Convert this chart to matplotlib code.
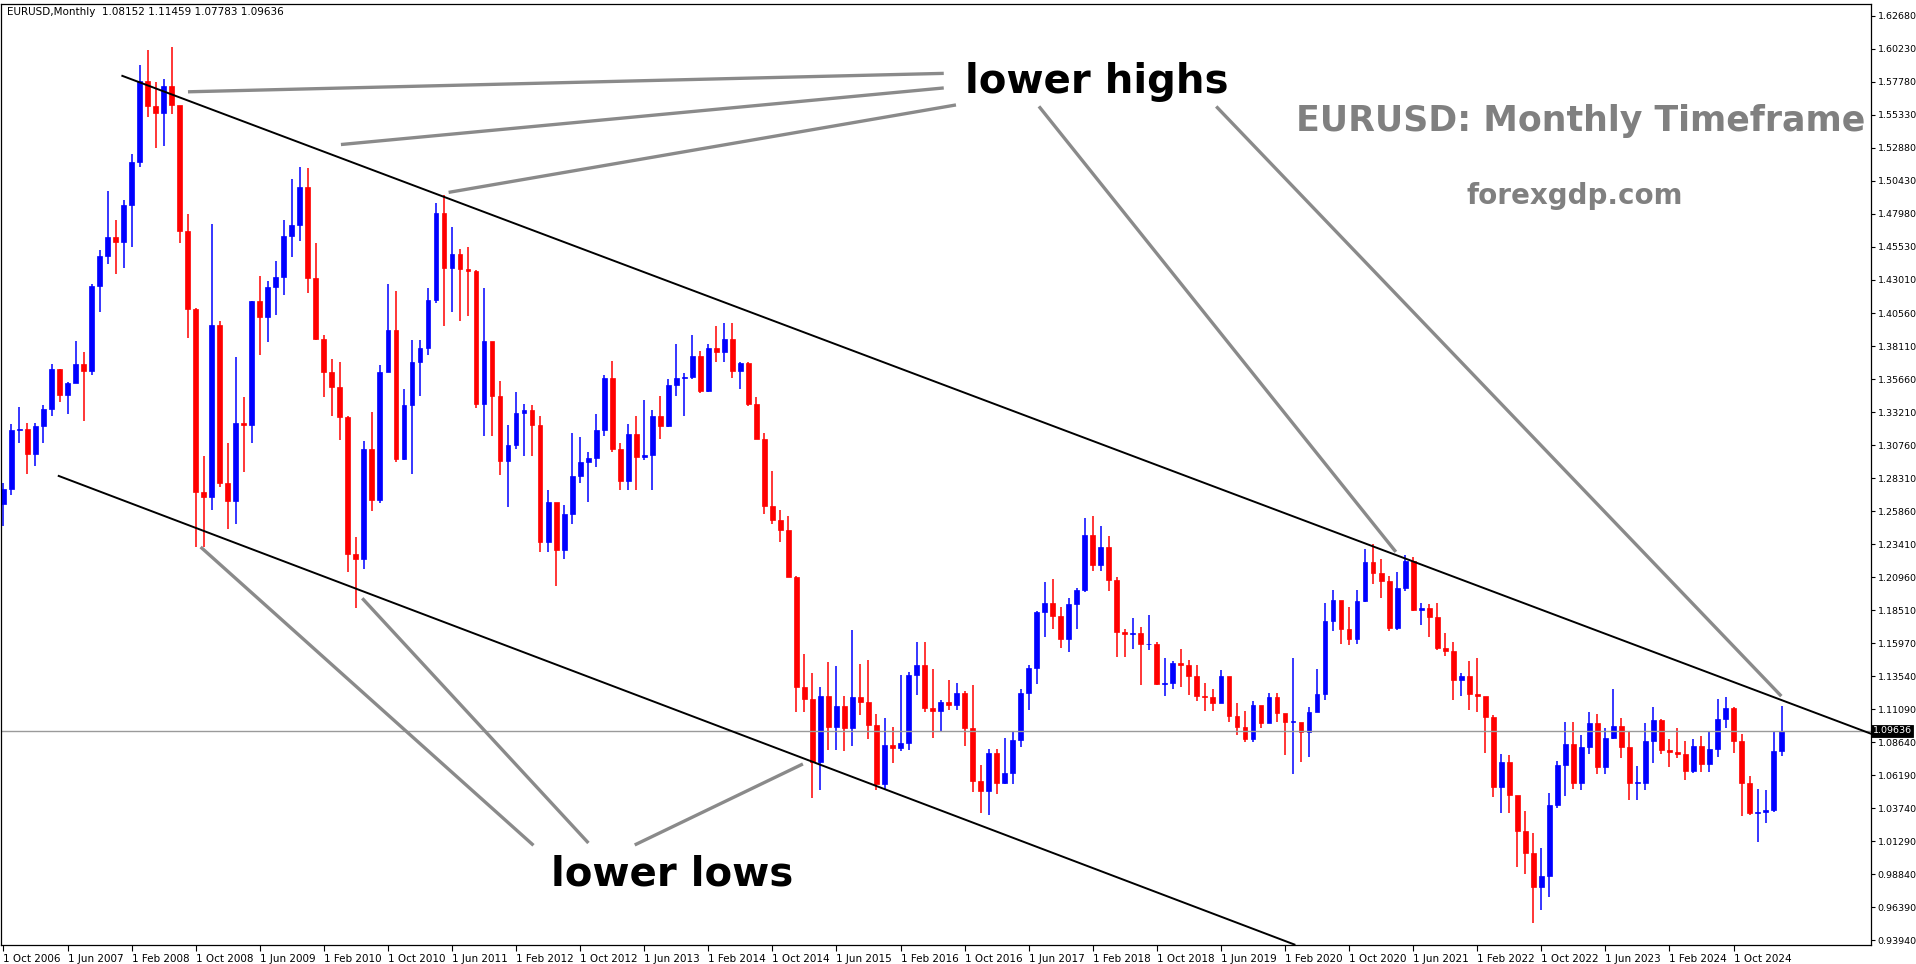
import matplotlib
matplotlib.use("Agg")
import matplotlib.pyplot as plt
from matplotlib.lines import Line2D
from matplotlib.patches import Rectangle

closes = [1.2760,1.3197,1.3199,
1.3019,1.3227,1.3354,1.3650,1.3454,1.3540,1.3687,1.3636,1.4263,1.4489,1.4628,1.4589,
1.4862,1.5184,1.5785,1.5597,1.5549,1.5751,1.5605,1.4670,1.4091,1.2736,1.2698,1.3971,
1.2804,1.2669,1.3247,1.3235,1.4150,1.4031,1.4256,1.4331,1.4638,1.4718,1.5000,1.4325,
1.3867,1.3627,1.3512,1.3294,1.2278,1.2235,1.3050,1.2674,1.3627,1.3934,1.2982,1.3381,
1.3696,1.3803,1.4159,1.4807,1.4398,1.4498,1.4389,1.4377,1.3385,1.3853,1.3447,1.2961,
1.3083,1.3320,1.3342,1.3235,1.2363,1.2664,1.2302,1.2574,1.2856,1.2955,1.2984,1.3194,
1.3580,1.3057,1.2817,1.3167,1.2995,1.3010,1.3301,1.3224,1.3526,1.3582,1.3589,1.3743,
1.3486,1.3800,1.3770,1.3870,1.3632,1.3692,1.3389,1.3131,1.2630,1.2525,1.2452,1.2100,
1.1290,1.1196,1.0731,1.1224,1.0987,1.1146,1.0984,1.1213,1.1176,1.1006,1.0565,1.0859,
1.0831,1.0873,1.1380,1.1453,1.1131,1.1106,1.1175,1.1157,1.1240,1.0980,1.0590,1.0517,
1.0797,1.0575,1.0652,1.0896,1.1243,1.1425,1.1842,1.1910,1.1813,1.1645,1.1904,1.2005,
1.2413,1.2193,1.2323,1.2078,1.1693,1.1683,1.1690,1.1603,1.1605,1.1312,1.1318,1.1466,
1.1448,1.1371,1.1217,1.1215,1.1168,1.1370,1.1075,1.0987,1.0899,1.1151,1.1018,1.1213,
1.1093,1.1027,1.1031,1.0955,1.1101,1.1235,1.1778,1.1936,1.1719,1.1646,1.1928,1.2216,
1.2137,1.2076,1.1728,1.2019,1.2225,1.1858,1.1870,1.1808,1.1579,1.1558,1.1336,1.1370,
1.1235,1.1218,1.1067,1.0545,1.0733,1.0484,1.0221,1.0054,0.9802,0.9882,1.0408,1.0705,
1.0863,1.0576,1.0839,1.1018,1.0690,1.0910,1.0998,1.0843,1.0573,1.0577,1.0886,1.1039,
1.0818,1.0805,1.0790,1.0666,1.0847,1.0713,1.0826,1.1048,1.1135,1.0884,1.0577,1.0354,
1.0362,1.0375,1.0815,1.09636]
highs = [1.2800,1.3240,1.3367,
1.3250,1.3250,1.3380,1.3682,1.3650,1.3550,1.3852,1.3770,1.4280,1.4528,1.4967,1.4750,
1.4900,1.5240,1.5905,1.6018,1.5780,1.5800,1.6038,1.5000,1.4800,1.4100,1.3000,1.4720,
1.4000,1.3100,1.3740,1.3440,1.4150,1.4340,1.4300,1.4450,1.4750,1.5060,1.5145,1.5140,
1.4580,1.3900,1.3720,1.3700,1.3300,1.2400,1.3110,1.3330,1.3680,1.4280,1.4230,1.3500,
1.3860,1.3860,1.4250,1.4880,1.4940,1.4700,1.4540,1.4550,1.4380,1.4250,1.3850,1.3560,
1.3230,1.3480,1.3390,1.3380,1.3300,1.2750,1.2400,1.2640,1.3170,1.3140,1.3030,1.3310,
1.3600,1.3710,1.3100,1.3240,1.3300,1.3420,1.3345,1.3450,1.3570,1.3830,1.3620,1.3900,
1.3780,1.3830,1.3970,1.3990,1.3990,1.3700,1.3700,1.3440,1.3170,1.2890,1.2600,1.2560,
1.2110,1.1530,1.1390,1.1290,1.1470,1.1440,1.1220,1.1710,1.1460,1.1490,1.1090,1.1060,
1.0990,1.1380,1.1400,1.1620,1.1620,1.1420,1.1190,1.1340,1.1320,1.1260,1.1300,1.0710,
1.0830,1.0830,1.0910,1.0950,1.1270,1.1450,1.1850,1.2070,1.2090,1.1880,1.1950,1.2020,
1.2540,1.2560,1.2480,1.2410,1.2100,1.1720,1.1800,1.1730,1.1820,1.1620,1.1500,1.1480,
1.1570,1.1490,1.1450,1.1320,1.1270,1.1410,1.1290,1.1170,1.1110,1.1180,1.1110,1.1240,
1.1240,1.1080,1.1500,1.1010,1.1140,1.1420,1.1910,1.2010,1.1920,1.1880,1.2010,1.2310,
1.2350,1.2240,1.2110,1.2140,1.2270,1.2250,1.1910,1.1900,1.1910,1.1690,1.1620,1.1390,
1.1480,1.1500,1.1180,1.1080,1.0790,1.0780,1.0280,1.0370,1.0200,1.0090,1.0500,1.0740,
1.1030,1.1030,1.0930,1.1100,1.1090,1.0980,1.1270,1.1060,1.0950,1.0700,1.1020,1.1140,
1.1050,1.0900,1.0980,1.0890,1.0900,1.0920,1.0950,1.1200,1.1210,1.1140,1.0940,1.0630,
1.0530,1.0520,1.0950,1.11459]
lows = [1.2480,1.2710,1.3100,
1.2866,1.2930,1.3100,1.3300,1.3402,1.3313,1.3540,1.3260,1.3600,1.4070,1.4430,1.4350,
1.4400,1.4550,1.5150,1.5515,1.5285,1.5300,1.5540,1.4580,1.3880,1.2330,1.2330,1.2600,
1.2770,1.2460,1.2500,1.2885,1.3100,1.3750,1.3850,1.4050,1.4200,1.4480,1.4600,1.4210,
1.3860,1.3440,1.3300,1.3120,1.2140,1.1876,1.2160,1.2590,1.2650,1.3690,1.2960,1.2970,
1.2870,1.3450,1.3750,1.4140,1.3970,1.4070,1.4000,1.4040,1.3360,1.3150,1.3150,1.2860,
1.2620,1.3050,1.3000,1.3000,1.2290,1.2290,1.2040,1.2240,1.2500,1.2800,1.2660,1.2920,
1.3150,1.3030,1.2750,1.2750,1.2750,1.2970,1.2750,1.3130,1.3220,1.3450,1.3300,1.3570,
1.3470,1.3480,1.3700,1.3700,1.3580,1.3500,1.3370,1.3130,1.2570,1.2500,1.2360,1.2100,
1.1100,1.1100,1.0460,1.0520,1.0820,1.0820,1.0810,1.0850,1.1080,1.0900,1.0520,1.0520,
1.0720,1.0810,1.0820,1.1230,1.1100,1.0910,1.0950,1.1120,1.1120,1.0850,1.0510,1.0350,
1.0340,1.0490,1.0570,1.0570,1.0840,1.1120,1.1310,1.1660,1.1720,1.1580,1.1550,1.1720,
1.1990,1.2150,1.2150,1.2000,1.1510,1.1510,1.1570,1.1300,1.1560,1.1300,1.1220,1.1270,
1.1290,1.1230,1.1180,1.1110,1.1110,1.1180,1.1030,1.0930,1.0880,1.0880,1.0980,1.1060,
1.1030,1.0780,1.0640,1.0730,1.0770,1.1160,1.1190,1.1700,1.1610,1.1600,1.1610,1.1920,
1.2050,1.1950,1.1700,1.1710,1.2000,1.1850,1.1750,1.1660,1.1560,1.1520,1.1190,1.1220,
1.1120,1.1100,1.0800,1.0470,1.0350,1.0350,0.9950,0.9900,0.9536,0.9630,0.9730,1.0390,
1.0480,1.0530,1.0520,1.0790,1.0640,1.0640,1.0900,1.0760,1.0450,1.0450,1.0520,1.0720,
1.0790,1.0690,1.0760,1.0600,1.0650,1.0660,1.0660,1.0770,1.0980,1.0800,1.0330,1.0340,
1.0140,1.0280,1.0360,1.07783]
first_open = 1.2645
last_open = 1.08152
opens = [first_open] + closes[:-1]
opens[-1] = last_open

price_labels = ["1.62680","1.60230","1.57780","1.55330","1.52880","1.50430","1.47980","1.45530",
"1.43010","1.40560","1.38110","1.35660","1.33210","1.30760","1.28310","1.25860","1.23410",
"1.20960","1.18510","1.15970","1.13540","1.11090","1.08640","1.06190","1.03740","1.01290",
"0.98840","0.96390","0.93940"]
month_names = ["Jan","Feb","Mar","Apr","May","Jun","Jul","Aug","Sep","Oct","Nov","Dec"]

W, H = 1916, 964
S = 1916 / 1566.0
fig = plt.figure(figsize=(W/100, H/100), dpi=100)
top_px, bot_px, right_px = 3*S, 772*S, 1529*S
ax = fig.add_axes([1/W, 1 - bot_px/H, (right_px-1)/W, (bot_px-top_px)/H])
ppx = 0.000908 / S
ax.set_ylim(0.9394 - (bot_px - 770*S)*ppx, 1.6268 + (13*S - top_px)*ppx)
spm = 6.55 * S
n = len(closes)
ax.set_xlim(-2*S/spm, (right_px-2*S)/spm)

for i in range(n):
    o, c, h, l = opens[i], closes[i], highs[i], lows[i]
    col = '#0000ff' if c >= o else '#ff0000'
    ax.plot([i, i], [l, h], color=col, lw=1.1, solid_capstyle='butt')
    ax.add_patch(Rectangle((i-0.3, min(o, c)), 0.6, max(abs(c-o), 0.0006),
                           facecolor=col, edgecolor=col, lw=0.5))

ax.axhline(closes[-1], color='#9a9a9a', lw=1.0)

ticks = [1.6268 - 0.0245*k for k in range(len(price_labels))]
ax.yaxis.tick_right()
ax.set_yticks(ticks)
ax.set_yticklabels(price_labels, fontsize=6.8)
ax.tick_params(axis='y', length=3, pad=2)
xt = list(range(0, n, 8))
labs = []
for i in xt:
    m = (9 + i) % 12
    y = 2006 + (9 + i)//12
    labs.append(f"1 {month_names[m]} {y}")
ax.set_xticks(xt)
ax.set_xticklabels(labs, fontsize=7.5, ha='left')
ax.tick_params(axis='x', length=4, pad=3)
for s in ax.spines.values():
    s.set_linewidth(0.9)

yl = ax.get_ylim()
ax.text(1.001, (closes[-1]-yl[0])/(yl[1]-yl[0]), f"{closes[-1]:.5f}",
        transform=ax.transAxes, fontsize=6.8, va='center', ha='left', color='white',
        bbox=dict(facecolor='black', edgecolor='black', lw=0.6, pad=1.0))
ax.text(0.003, 0.996, "EURUSD,Monthly  1.08152 1.11459 1.07783 1.09636", transform=ax.transAxes,
        fontsize=7.5, va='top', ha='left')

def fl(p1, p2, color, lw):
    fig.add_artist(Line2D([p1[0]*S/W, p2[0]*S/W], [1-p1[1]*S/H, 1-p2[1]*S/H], color=color, lw=lw))

fl((100, 62), (1530, 600), 'black', 1.4)
fl((48, 389), (1058, 772), 'black', 1.4)
g = '#8a8a8a'
for a, b in [((155, 75), (770, 60)), ((280, 118), (770, 72)), ((368, 157), (780, 86)),
             ((850, 88), (1140, 450)), ((995, 88), (1455, 568)),
             ((165, 448), (435, 690)), ((297, 490), (480, 688)), ((520, 690), (655, 625))]:
    fl(a, b, g, 2.4)

fig.text(789*S/W, 1-67*S/H, "lower highs", fontsize=29, va='center', ha='left', fontweight='bold')
fig.text(450*S/W, 1-715*S/H, "lower lows", fontsize=29, va='center', ha='left', fontweight='bold')
fig.text(1292*S/W, 1-99*S/H, "EURUSD: Monthly Timeframe", fontsize=25, va='center', ha='center',
         color='#808080', fontweight='bold')
fig.text(1287*S/W, 1-160*S/H, "forexgdp.com", fontsize=20, va='center', ha='center',
         color='#808080', fontweight='bold')

fig.savefig("out.png", dpi=100)
